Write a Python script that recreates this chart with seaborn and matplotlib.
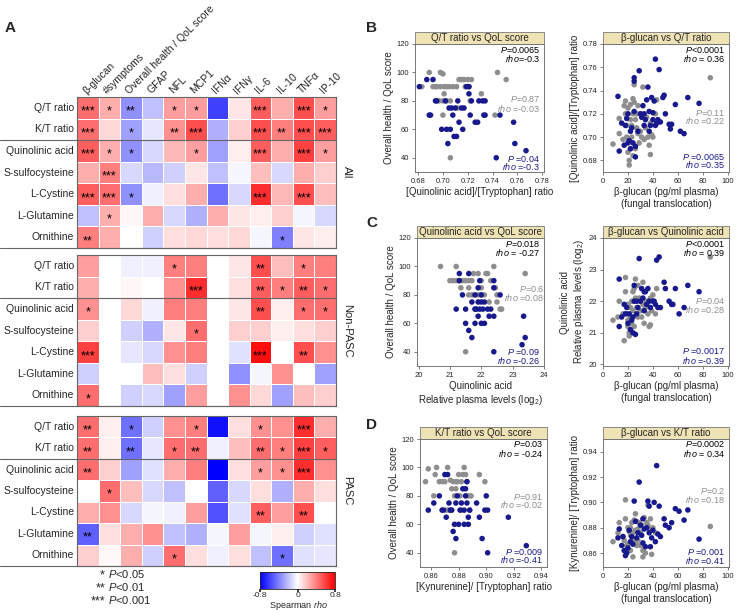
import numpy as np
import pandas as pd
import seaborn as sns
import matplotlib.pyplot as plt
from matplotlib.patches import Rectangle
from matplotlib.lines import Line2D

sns.set_theme(style='white')
plt.rcParams['font.family'] = ['Liberation Sans', 'DejaVu Sans']
plt.rcParams['mathtext.fontset'] = 'custom'
plt.rcParams['mathtext.rm'] = 'Liberation Sans'
plt.rcParams['mathtext.it'] = 'Liberation Sans:italic'

# ---------------- heatmap data (panel A) ----------------
cols = ['β-glucan', '#symptoms', 'Overall health / QoL score', 'GFAP', 'NFL', 'MCP1',
        'IFNα', 'IFNγ', 'IL-6', 'IL-10', 'TNFα', 'IP-10']
rows = ['Q/T ratio', 'K/T ratio', 'Quinolinic acid', 'S-sulfocysteine', 'L-Cystine',
        'L-Glutamine', 'Ornithine']

rho_all = [
    [0.45, 0.25, -0.35, -0.20, 0.30, 0.30, -0.60, 0.08, 0.50, 0.25, 0.55, 0.30],
    [0.45, 0.12, -0.30, -0.08, 0.35, 0.55, -0.25, 0.15, 0.55, 0.40, 0.55, 0.50],
    [0.50, 0.25, -0.35, -0.12, 0.22, 0.30, -0.30, 0.05, 0.50, 0.25, 0.60, 0.30],
    [0.25, 0.40, -0.12, -0.22, -0.15, 0.08, -0.20, -0.03, 0.20, -0.12, 0.25, 0.15],
    [0.50, 0.45, -0.35, -0.05, 0.10, 0.25, -0.45, -0.12, 0.65, 0.22, 0.55, 0.20],
    [-0.20, 0.25, 0.03, 0.25, -0.12, -0.25, 0.25, 0.08, 0.05, 0.15, -0.03, -0.12],
    [0.40, 0.25, 0.00, -0.15, 0.10, 0.12, 0.10, 0.12, -0.03, -0.40, 0.08, 0.05],
]
stars_all = [
    ['***', '*', '**', '', '*', '*', '', '', '***', '', '***', '*'],
    ['***', '', '*', '', '**', '***', '', '', '***', '**', '***', '***'],
    ['***', '*', '*', '', '', '*', '', '', '***', '', '***', '*'],
    ['', '***', '', '', '', '', '', '', '', '', '', ''],
    ['***', '***', '*', '', '', '', '', '', '***', '', '***', ''],
    ['', '*', '', '', '', '', '', '', '', '', '', ''],
    ['**', '', '', '', '', '', '', '', '', '*', '', ''],
]

rho_nonpasc = [
    [0.30, 0.00, -0.05, -0.05, 0.40, 0.40, 0.00, 0.08, 0.55, 0.20, 0.40, 0.40],
    [0.25, 0.00, 0.03, 0.00, 0.35, 0.65, 0.00, 0.10, 0.50, 0.40, 0.50, 0.45],
    [0.35, 0.00, 0.12, -0.05, 0.40, 0.40, 0.00, 0.08, 0.55, 0.05, 0.45, 0.45],
    [0.15, 0.00, -0.15, -0.25, 0.08, 0.45, 0.00, 0.15, 0.15, 0.05, 0.10, 0.15],
    [0.60, 0.00, -0.08, -0.12, 0.35, 0.40, 0.00, -0.10, 0.75, 0.00, 0.55, 0.35],
    [-0.15, 0.00, 0.00, 0.20, 0.10, -0.15, 0.00, -0.35, -0.03, 0.35, 0.00, -0.30],
    [0.45, 0.00, -0.15, -0.12, -0.30, 0.30, 0.00, 0.35, 0.12, -0.30, 0.20, 0.15],
]
stars_nonpasc = [
    ['', '', '', '', '*', '', '', '', '**', '', '*', ''],
    ['', '', '', '', '', '***', '', '', '**', '*', '**', '*'],
    ['*', '', '', '', '', '', '', '', '**', '', '*', '*'],
    ['', '', '', '', '', '*', '', '', '', '', '', ''],
    ['***', '', '', '', '', '', '', '', '***', '', '**', ''],
    ['', '', '', '', '', '', '', '', '', '', '', ''],
    ['*', '', '', '', '', '', '', '', '', '', '', ''],
]

rho_pasc = [
    [0.45, 0.05, -0.45, -0.15, 0.35, 0.40, -0.75, 0.10, 0.35, 0.35, 0.65, 0.25],
    [0.45, 0.05, -0.45, -0.08, 0.45, 0.45, -0.05, 0.20, 0.45, 0.40, 0.60, 0.50],
    [0.45, 0.15, -0.30, -0.10, 0.25, 0.40, -0.80, 0.10, 0.30, 0.35, 0.65, 0.35],
    [0.00, 0.45, 0.20, -0.12, -0.20, 0.00, -0.50, -0.12, 0.10, -0.25, 0.25, 0.10],
    [0.25, 0.35, -0.12, -0.03, -0.05, 0.30, -0.55, -0.10, 0.50, 0.30, 0.55, 0.00],
    [-0.50, 0.10, 0.25, 0.35, -0.20, -0.25, -0.03, 0.30, -0.03, 0.05, -0.15, -0.10],
    [0.15, 0.02, 0.25, -0.15, 0.45, 0.10, -0.05, 0.10, -0.20, -0.45, -0.10, -0.08],
]
stars_pasc = [
    ['**', '', '*', '', '', '*', '', '', '*', '', '***', ''],
    ['**', '', '**', '', '*', '**', '', '', '**', '*', '***', '*'],
    ['**', '', '', '', '', '', '', '', '*', '*', '***', ''],
    ['', '*', '', '', '', '', '', '', '', '', '', ''],
    ['', '', '', '', '', '', '', '', '**', '', '**', ''],
    ['**', '', '', '', '', '', '', '', '', '', '', ''],
    ['', '', '', '', '*', '', '', '', '', '*', '', ''],
]

# ---------------- scatter data (panels B-D), (x, y) pairs ----------------
qt_qol_np = [(0.683, 90), (0.689, 100), (0.692, 90), (0.695, 90), (0.698, 100), (0.700, 99),
             (0.698, 90), (0.701, 85), (0.703, 90), (0.705, 90), (0.708, 90), (0.711, 90),
             (0.713, 95), (0.715, 95), (0.717, 95), (0.720, 95), (0.723, 95), (0.721, 90),
             (0.718, 90), (0.722, 80), (0.706, 40), (0.700, 70), (0.697, 80), (0.703, 80),
             (0.706, 80), (0.700, 80), (0.712, 75), (0.744, 100), (0.751, 95), (0.731, 85),
             (0.742, 70), (0.701, 90), (0.694, 90)]
qt_qol_p = [(0.681, 90), (0.687, 95), (0.692, 95), (0.689, 70), (0.690, 70), (0.695, 80),
            (0.694, 80), (0.699, 60), (0.703, 60), (0.706, 60), (0.704, 50), (0.708, 70),
            (0.707, 75), (0.710, 75), (0.711, 55), (0.709, 55), (0.712, 80), (0.713, 65),
            (0.716, 60), (0.717, 75), (0.719, 90), (0.721, 90), (0.721, 85), (0.722, 70),
            (0.723, 80), (0.726, 65), (0.728, 65), (0.729, 80), (0.732, 80), (0.734, 80),
            (0.733, 70), (0.734, 70), (0.746, 70), (0.743, 40), (0.757, 65), (0.758, 50),
            (0.767, 45), (0.702, 80), (0.715, 75), (0.705, 75)]

bg_qt_np = [(8, 0.694), (13, 0.703), (13, 0.716), (16, 0.698), (17, 0.727), (18, 0.720),
            (18, 0.731), (19, 0.710), (20, 0.725), (20, 0.687), (21, 0.680), (21, 0.676),
            (22, 0.690), (22, 0.715), (23, 0.700), (23, 0.710), (24, 0.733), (24, 0.684),
            (25, 0.745), (25, 0.730), (26, 0.715), (26, 0.690), (27, 0.720), (28, 0.703),
            (28, 0.727), (29, 0.695), (30, 0.705), (30, 0.720), (31, 0.700), (32, 0.743),
            (33, 0.698), (34, 0.708), (35, 0.717), (36, 0.700), (37, 0.693), (38, 0.712),
            (38, 0.685), (39, 0.702), (40, 0.700), (42, 0.720), (43, 0.732), (86, 0.751),
            (24, 0.720), (19, 0.700), (27, 0.708), (22, 0.728)]
bg_qt_p = [(12, 0.735), (13, 0.688), (15, 0.712), (17, 0.693), (18, 0.710), (19, 0.716),
           (20, 0.695), (21, 0.697), (22, 0.690), (20, 0.720), (22, 0.705), (23, 0.708),
           (24, 0.695), (25, 0.751), (25, 0.748), (26, 0.683), (26, 0.692), (28, 0.705),
           (29, 0.757), (30, 0.720), (31, 0.717), (32, 0.727), (33, 0.710), (34, 0.715),
           (35, 0.732), (36, 0.743), (37, 0.705), (37, 0.722), (38, 0.710), (39, 0.734),
           (40, 0.721), (40, 0.715), (41, 0.731), (42, 0.767), (42, 0.710), (43, 0.712),
           (44, 0.715), (45, 0.758), (46, 0.713), (48, 0.734), (49, 0.736), (50, 0.720),
           (53, 0.711), (54, 0.707), (55, 0.711), (58, 0.728), (62, 0.705), (65, 0.703),
           (68, 0.734), (77, 0.729), (25, 0.722), (33, 0.720)]

qa_qol_np = [(20.7, 100), (21.0, 90), (21.1, 90), (21.2, 100), (21.2, 90), (21.3, 90),
             (21.35, 85), (21.4, 90), (21.5, 90), (21.6, 90), (21.6, 85), (21.7, 90),
             (21.75, 95), (21.9, 95), (22.0, 90), (22.0, 80), (22.1, 80), (22.15, 95),
             (22.2, 95), (22.25, 75), (22.3, 90), (22.4, 100), (22.45, 85), (22.5, 75),
             (22.6, 70), (22.65, 70), (22.5, 80), (23.4, 95), (21.5, 40), (21.8, 70),
             (21.6, 80), (21.7, 80), (22.0, 85), (21.9, 80)]
qa_qol_p = [(21.2, 70), (21.3, 95), (21.3, 90), (21.4, 80), (21.5, 70), (21.5, 60),
            (21.6, 55), (21.6, 95), (21.7, 75), (21.7, 50), (21.8, 80), (21.8, 70),
            (21.9, 85), (21.9, 75), (21.9, 65), (21.95, 70), (22.0, 60), (22.0, 75),
            (22.0, 80), (22.05, 70), (22.1, 75), (22.1, 60), (22.2, 70), (22.25, 65),
            (22.3, 70), (22.4, 65), (22.4, 90), (22.4, 85), (22.4, 40), (22.6, 80),
            (23.3, 45), (23.35, 65), (23.4, 50), (21.8, 60), (21.85, 70), (21.95, 90)]

bg_qa_np = [(8, 21.4), (12, 21.5), (13, 22.0), (16, 21.6), (17, 20.75), (18, 22.75),
            (18, 22.3), (19, 21.6), (20, 21.2), (20, 21.4), (21, 21.0), (21, 20.9),
            (22, 21.8), (22, 21.5), (23, 22.0), (23, 21.3), (24, 22.3), (24, 21.7),
            (25, 22.4), (25, 21.2), (26, 22.7), (26, 22.1), (27, 21.8), (28, 21.5),
            (28, 22.5), (29, 22.1), (30, 21.7), (31, 21.5), (32, 22.6), (32, 21.9),
            (33, 21.3), (34, 21.8), (35, 22.0), (36, 21.6), (37, 21.2), (38, 21.25),
            (38, 22.1), (39, 21.7), (40, 22.2), (42, 21.6), (43, 22.4), (86, 23.4),
            (20, 21.9), (30, 22.0)]
bg_qa_p = [(13, 22.7), (13, 21.2), (15, 21.5), (17, 21.9), (18, 21.6), (19, 21.8),
           (20, 21.3), (21, 21.6), (22, 21.1), (23, 21.4), (24, 21.0), (24, 21.5),
           (25, 22.5), (25, 22.0), (26, 20.95), (27, 21.6), (28, 21.8), (29, 23.35),
           (30, 22.0), (31, 22.4), (32, 22.1), (33, 22.3), (34, 22.3), (35, 21.9),
           (36, 22.4), (37, 22.0), (38, 21.8), (40, 22.0), (41, 22.0), (42, 21.9),
           (43, 23.3), (44, 21.8), (45, 23.4), (46, 21.8), (49, 22.6), (50, 22.4),
           (53, 22.0), (55, 21.9), (56, 21.9), (58, 22.4), (61, 21.6), (65, 21.8),
           (68, 22.5), (77, 22.3), (27, 22.0), (33, 21.7)]

kt_qol_np = [(0.856, 90), (0.858, 99), (0.862, 80), (0.863, 95), (0.864, 100), (0.866, 90),
             (0.868, 90), (0.870, 90), (0.872, 100), (0.874, 91), (0.875, 85), (0.876, 90),
             (0.877, 80), (0.878, 85), (0.879, 90), (0.880, 95), (0.881, 80), (0.882, 90),
             (0.883, 95), (0.884, 100), (0.885, 95), (0.886, 90), (0.887, 80), (0.888, 70),
             (0.889, 80), (0.895, 95), (0.899, 90), (0.877, 40), (0.873, 70), (0.878, 90),
             (0.871, 70), (0.882, 70)]
kt_qol_p = [(0.858, 70), (0.862, 75), (0.866, 80), (0.869, 70), (0.870, 95), (0.871, 65),
            (0.872, 95), (0.873, 75), (0.875, 70), (0.876, 55), (0.877, 60), (0.878, 50),
            (0.878, 75), (0.879, 80), (0.880, 60), (0.881, 70), (0.882, 75), (0.883, 85),
            (0.884, 60), (0.884, 70), (0.885, 80), (0.886, 75), (0.887, 60), (0.887, 65),
            (0.888, 70), (0.893, 75), (0.895, 65), (0.897, 50), (0.899, 70), (0.900, 80),
            (0.901, 70), (0.901, 40), (0.916, 65), (0.929, 45), (0.874, 70), (0.868, 70),
            (0.886, 90), (0.885, 85)]

bg_kt_np = [(8, 0.869), (12, 0.876), (13, 0.884), (16, 0.873), (17, 0.870), (18, 0.902),
            (18, 0.887), (19, 0.866), (20, 0.880), (20, 0.867), (21, 0.877), (22, 0.862),
            (22, 0.880), (23, 0.884), (24, 0.876), (24, 0.857), (25, 0.886), (25, 0.870),
            (26, 0.891), (26, 0.878), (27, 0.885), (28, 0.879), (28, 0.870), (29, 0.884),
            (30, 0.876), (31, 0.882), (32, 0.862), (32, 0.857), (33, 0.888), (34, 0.860),
            (35, 0.884), (36, 0.898), (36, 0.882), (37, 0.879), (38, 0.887), (39, 0.859),
            (40, 0.880), (42, 0.876), (30, 0.866), (86, 0.881), (22, 0.874), (27, 0.866)]
bg_kt_p = [(12, 0.872), (13, 0.879), (15, 0.866), (16, 0.873), (17, 0.862), (18, 0.858),
           (19, 0.860), (20, 0.864), (21, 0.878), (22, 0.869), (23, 0.873), (24, 0.867),
           (25, 0.901), (26, 0.885), (27, 0.872), (28, 0.876), (29, 0.916), (30, 0.882),
           (31, 0.874), (32, 0.868), (33, 0.879), (34, 0.865), (35, 0.880), (36, 0.901),
           (37, 0.876), (38, 0.865), (39, 0.872), (40, 0.878), (41, 0.900), (42, 0.869),
           (43, 0.929), (44, 0.875), (45, 0.897), (46, 0.873), (49, 0.887), (50, 0.882),
           (53, 0.880), (55, 0.884), (58, 0.895), (61, 0.893), (65, 0.886), (68, 0.894),
           (77, 0.871), (37, 0.897), (32, 0.887)]

GRAY = '#8e8e8e'
NAVY = '#17198c'
W, H = 737, 610

fig = plt.figure(figsize=(7.37, 6.10), dpi=100)


def px_axes(l, t, r, b):
    return fig.add_axes([l / W, 1 - b / H, (r - l) / W, (b - t) / H])


def hline_px(y, x0=0, x1=336):
    fig.add_artist(Line2D([x0 / W, x1 / W], [1 - y / H, 1 - y / H], color='#666666', lw=0.8))


# ---------------- panel A: heatmaps ----------------
blocks = [('All', 97, 248, rho_all, stars_all),
          ('Non-PASC', 255, 406, rho_nonpasc, stars_nonpasc),
          ('PASC', 416, 566, rho_pasc, stars_pasc)]

for i, (name, top, bot, vals, stars) in enumerate(blocks):
    ax = px_axes(77, top, 336, bot)
    df = pd.DataFrame(vals, index=rows, columns=cols)
    sns.heatmap(df, ax=ax, cmap='bwr', vmin=-0.8, vmax=0.8, cbar=False,
                annot=np.array(stars), fmt='', linewidths=0.6, linecolor='white',
                annot_kws={'size': 9, 'color': 'black'})
    for t in ax.texts:
        x, y = t.get_position()
        t.set_position((x, y + 0.18))
    ax.set_yticklabels(rows, rotation=0, fontsize=7.5)
    ax.tick_params(length=0, pad=2)
    if i == 0:
        ax.xaxis.tick_top()
        ax.set_xticklabels(cols, rotation=45, ha='left', rotation_mode='anchor', fontsize=7.5)
        ax.tick_params(axis='x', pad=1)
    else:
        ax.set_xticks([])
    ax.set_xlabel('')
    ax.set_ylabel('')
    for sp in ax.spines.values():
        sp.set_visible(True)
        sp.set_color('#666666')
        sp.set_linewidth(0.8)
    ax.text(1.025, 0.5, name, transform=ax.transAxes, rotation=-90,
            va='center', ha='left', fontsize=8)
    rowh = (bot - top) / 7
    hline_px(top + 2 * rowh)
    hline_px(bot)

# colorbar
cax = px_axes(260, 572, 335, 589)
sm = plt.cm.ScalarMappable(cmap='bwr', norm=plt.Normalize(-0.8, 0.8))
cb = fig.colorbar(sm, cax=cax, orientation='horizontal', ticks=[-0.8, 0, 0.8])
cb.ax.set_xticklabels(['-0.8', '0', '0.8'])
cb.ax.tick_params(labelsize=6, length=2, pad=0.5)
cb.outline.set_linewidth(0.6)
fig.text(298 / W, 1 - 605 / H, 'Spearman $rho$', ha='center', va='center', fontsize=6.5)

# significance legend
for ypx, st, lab in [(578, '*', '<0.05'), (591, '**', '<0.01'), (604, '***', '<0.001')]:
    fig.text(105 / W, 1 - ypx / H, st, ha='right', va='baseline', fontsize=9)
    fig.text(108 / W, 1 - ypx / H, '$P$' + lab, ha='left', va='baseline', fontsize=8)

# ---------------- panels B-D: scatters ----------------


def scatter_panel(box, title, np_pts, p_pts, xlim, ylim, xticks, yticks, xfmt, yfmt,
                  xlabel, ylabel, stats):
    ax = px_axes(*box)
    df = pd.DataFrame(
        [(x, y, 'Non-PASC') for x, y in np_pts] + [(x, y, 'PASC') for x, y in p_pts],
        columns=['x', 'y', 'group'])
    sns.scatterplot(data=df, x='x', y='y', hue='group', palette={'Non-PASC': GRAY, 'PASC': NAVY},
                    s=16, edgecolor='none', legend=False, ax=ax, clip_on=False)
    ax.set_xlim(*xlim)
    ax.set_ylim(*ylim)
    ax.set_xticks(xticks)
    ax.set_yticks(yticks)
    ax.set_xticklabels([xfmt.format(v) for v in xticks])
    ax.set_yticklabels([yfmt.format(v) for v in yticks])
    ax.tick_params(direction='out', length=2.5, width=0.6, color='#666666',
                   labelsize=5.5, pad=1.5, left=True, bottom=True)
    ax.set_xlabel(xlabel, fontsize=7, labelpad=2)
    ax.set_ylabel(ylabel, fontsize=7, labelpad=2)
    for sp in ax.spines.values():
        sp.set_color('#777777')
        sp.set_linewidth(0.7)
    hbox = 12 / (box[3] - box[1])
    ax.add_patch(Rectangle((0, 1), 1, hbox, transform=ax.transAxes, clip_on=False,
                           facecolor='#efe2b4', edgecolor='#888888', lw=0.7))
    ax.text(0.5, 1 + hbox / 2, title, transform=ax.transAxes, ha='center', va='center',
            fontsize=7)
    for txt, col, xf, yf in stats:
        ax.text(xf, yf, txt, transform=ax.transAxes, ha='right', va='center',
                fontsize=6.5, color=col)
    return ax


B1 = scatter_panel((415, 44, 544, 172), 'Q/T ratio vs QoL score', qt_qol_np, qt_qol_p,
                   (0.6775, 0.7815), (30, 120), [0.68, 0.70, 0.72, 0.74, 0.76, 0.78],
                   [40, 60, 80, 100, 120], '{:.2f}', '{:d}',
                   '[Quinolinic acid]/[Tryptophan] ratio', 'Overall health / QoL score',
                   [('$P$=0.0065', 'black', 0.97, 0.95), ('$rho$=-0.3', 'black', 0.97, 0.885),
                    ('$P$=0.87', GRAY, 0.97, 0.57), ('$rho$ =-0.03', GRAY, 0.97, 0.50),
                    ('$P$ =0.04', NAVY, 0.97, 0.105), ('$rho$ =-0.3', NAVY, 0.97, 0.04)])

B2 = scatter_panel((603, 44, 729, 172), 'β-glucan vs Q/T ratio', bg_qt_np, bg_qt_p,
                   (0, 101), (0.67, 0.78), [0, 20, 40, 60, 80, 100],
                   [0.68, 0.70, 0.72, 0.74, 0.76, 0.78], '{:d}', '{:.2f}',
                   'β-glucan (pg/ml plasma)\n(fungal translocation)',
                   '[Quinolinic acid]/[Tryptophan] ratio',
                   [('$P$<0.0001', 'black', 0.97, 0.95), ('$rho$ = 0.36', 'black', 0.97, 0.89),
                    ('$P$=0.11', GRAY, 0.97, 0.46), ('$rho$ =0.22', GRAY, 0.97, 0.40),
                    ('$P$ =0.0065', NAVY, 0.97, 0.12), ('$rho$ =0.35', NAVY, 0.97, 0.055)])

C1 = scatter_panel((417, 238, 544, 366), 'Quinolinic acid vs QoL score', qa_qol_np, qa_qol_p,
                   (19.95, 24), (30, 120), [20, 21, 22, 23, 24], [40, 60, 80, 100, 120],
                   '{:d}', '{:d}', 'Quinolinic acid\nRelative plasma levels (log$_2$)',
                   'Overall health / QoL score',
                   [('$P$=0.018', 'black', 0.97, 0.955), ('$rho$ = -0.27', 'black', 0.97, 0.89),
                    ('$P$=0.6', GRAY, 1.0, 0.60), ('$rho$ =0.08', GRAY, 1.0, 0.535),
                    ('$P$ =0.09', NAVY, 0.97, 0.11), ('$rho$ =-0.26', NAVY, 0.97, 0.04)])

C2 = scatter_panel((603, 238, 729, 366), 'β-glucan vs Quinolinic acid', bg_qa_np, bg_qa_p,
                   (0, 101), (19.95, 24), [0, 20, 40, 60, 80, 100], [20, 21, 22, 23, 24],
                   '{:d}', '{:d}', 'β-glucan (pg/ml plasma)\n(fungal translocation)',
                   'Quinolinic acid\nRelative plasma levels (log$_2$)',
                   [('$P$<0.0001', 'black', 0.97, 0.955), ('$rho$ = 0.39', 'black', 0.97, 0.89),
                    ('$P$=0.04', GRAY, 0.97, 0.51), ('$rho$ =0.28', GRAY, 0.97, 0.445),
                    ('$P$ =0.0017', NAVY, 0.97, 0.115), ('$rho$ =-0.39', NAVY, 0.97, 0.045)])

D1 = scatter_panel((420, 439, 547, 567), 'K/T ratio vs QoL score', kt_qol_np, kt_qol_p,
                   (0.852, 0.944), (30, 120), [0.86, 0.88, 0.90, 0.92, 0.94],
                   [40, 60, 80, 100, 120], '{:.2f}', '{:d}',
                   '[Kynurenine]/ [Tryptophan] ratio', 'Overall health / QoL score',
                   [('$P$=0.03', 'black', 0.97, 0.96), ('$rho$ = -0.24', 'black', 0.97, 0.89),
                    ('$P$=0.91', GRAY, 0.97, 0.55), ('$rho$ =-0.02', GRAY, 0.97, 0.485),
                    ('$P$ =0.009', NAVY, 0.97, 0.12), ('$rho$ =-0.41', NAVY, 0.97, 0.055)])

D2 = scatter_panel((603, 439, 729, 567), 'β-glucan vs K/T ratio', bg_kt_np, bg_kt_p,
                   (0, 101), (0.849, 0.950), [0, 20, 40, 60, 80, 100],
                   [0.86, 0.88, 0.90, 0.92, 0.94], '{:d}', '{:.2f}',
                   'β-glucan (pg/ml plasma)\n(fungal translocation)',
                   '[Kynurenine]/ [Tryptophan] ratio',
                   [('$P$=0.0002', 'black', 0.97, 0.96), ('$rho$ = 0.34', 'black', 0.97, 0.89),
                    ('$P$=0.2', GRAY, 0.97, 0.595), ('$rho$ =0.18', GRAY, 0.97, 0.53),
                    ('$P$ =0.001', NAVY, 0.97, 0.12), ('$rho$ =0.41', NAVY, 0.97, 0.05)])

# panel letters
for lab, x, y in [('A', 5, 28), ('B', 366, 28), ('C', 366, 223), ('D', 366, 425)]:
    fig.text(x / W, 1 - y / H, lab, fontsize=11, fontweight='bold', va='center', ha='left')

fig.savefig('out.png', dpi=100)
